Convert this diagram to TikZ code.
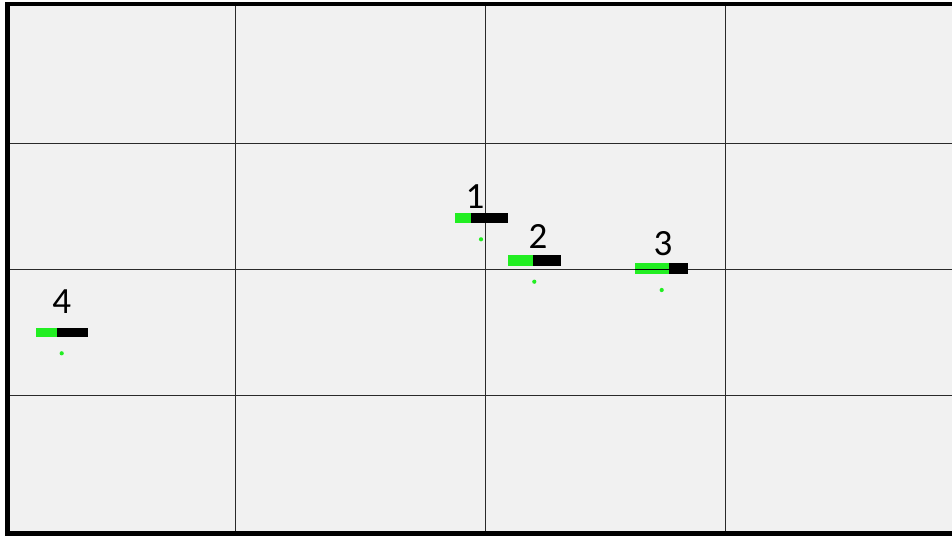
\documentclass[tikz,border=0pt]{standalone}
\usepackage{fontspec}
\setmainfont{Carlito}
\definecolor{bg}{HTML}{F1F1F1}
\definecolor{grn}{HTML}{22EE22}
\definecolor{gridc}{HTML}{2A2A2A}
\begin{document}
\begin{tikzpicture}[x=1pt,y=-1pt,
  gridline/.style={draw=gridc,line width=1pt},
  lbl/.style={anchor=base,inner sep=0pt,font=\fontsize{37}{37}\selectfont},
  dotm/.style={fill=grn}]
\useasboundingbox (0,0) rectangle (952,536);
\fill[white] (0,0) rectangle (952,536);
\fill[bg] (10,6) rectangle (952,531);
% frame
\fill[black] (5,2) rectangle (952,6);
\fill[black] (5,2) rectangle (10,536);
\fill[black] (5,531) rectangle (952,536);
% grid
\draw[gridline] (235.7,6) -- (235.7,531);
\draw[gridline] (485,6) -- (485,531);
\draw[gridline] (725.3,6) -- (725.3,531);
\draw[gridline] (10,143.7) -- (952,143.7);
\draw[gridline] (10,269.7) -- (952,269.7);
\draw[gridline] (10,395.3) -- (952,395.3);
% marker 1
\fill[grn] (455,212.7) rectangle (471,223.3);
\fill[black] (471,212.7) rectangle (507.7,223.3);
\fill[dotm] (481,239.3) circle (2.1);
\node[lbl] (l1) at (475,208) {1};
% marker 2
\fill[grn] (507.7,255) rectangle (533.3,265.7);
\fill[black] (533.3,255) rectangle (560.7,265.7);
\fill[dotm] (534.3,281.7) circle (2.1);
\node[lbl] (l2) at (538,248) {2};
% marker 3
\fill[grn] (635,262.7) rectangle (669.3,274);
\fill[black] (669.3,262.7) rectangle (687.7,274);
\draw[black,line width=0.8pt] (635,269.7) -- (669.3,269.7);
\fill[dotm] (661.7,290) circle (2.1);
\node[lbl] (l3) at (663,255) {3};
% marker 4
\fill[grn] (35.7,327.7) rectangle (56.7,337.3);
\fill[black] (56.7,327.7) rectangle (88.3,337.3);
\fill[dotm] (61.7,353.3) circle (2.1);
\node[lbl] (l4) at (61.7,313.3) {4};
\end{tikzpicture}
\end{document}
